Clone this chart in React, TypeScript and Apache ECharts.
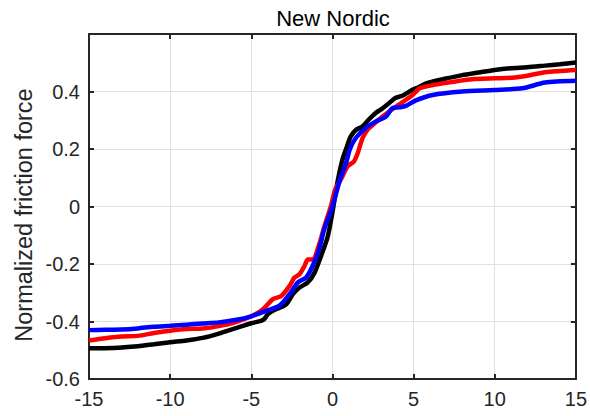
import React, { useEffect, useRef } from "react";
import * as echarts from "echarts";

const xTicks = [-15, -10, -5, 0, 5, 10, 15];
const yTicks = [-0.6, -0.4, -0.2, 0, 0.2, 0.4];

const blackSeries: [number, number][] = [
  [-15, -0.493], [-13.5, -0.492], [-12, -0.486], [-11, -0.479], [-10, -0.472],
  [-9, -0.466], [-8, -0.457], [-7, -0.442], [-6, -0.424], [-5, -0.406],
  [-4.4, -0.398], [-4.2, -0.392], [-3.97, -0.374], [-3.46, -0.357], [-2.85, -0.34],
  [-2.44, -0.305], [-2.03, -0.282], [-1.52, -0.264], [-1.1, -0.23], [-0.7, -0.172],
  [-0.29, -0.105], [0.0, -0.02], [0.31, 0.085], [0.6, 0.16], [0.84, 0.2],
  [1.13, 0.244], [1.46, 0.267], [1.84, 0.278], [2.2, 0.3], [2.68, 0.326],
  [3.0, 0.338], [3.5, 0.36], [3.9, 0.378], [4.3, 0.385], [4.9, 0.405],
  [5.3, 0.415], [5.76, 0.428], [7, 0.445], [8, 0.457], [9, 0.466],
  [10, 0.475], [11, 0.481], [12, 0.484], [13.1, 0.49], [14, 0.495], [15, 0.501],
];

const redSeries: [number, number][] = [
  [-15, -0.466], [-14, -0.458], [-13, -0.452], [-12, -0.45], [-11, -0.44],
  [-10, -0.432], [-9, -0.426], [-8, -0.424], [-7, -0.416], [-6, -0.403],
  [-5, -0.382], [-4.28, -0.357], [-3.67, -0.322], [-3.15, -0.311], [-2.64, -0.276],
  [-2.34, -0.247], [-2.03, -0.236], [-1.72, -0.207], [-1.52, -0.184], [-1.2, -0.184],
  [-0.82, -0.132], [-0.5, -0.07], [-0.1, 0], [0.17, 0.059], [0.51, 0.093],
  [0.94, 0.14], [1.33, 0.157], [1.56, 0.186], [1.86, 0.239], [2.2, 0.27],
  [2.5, 0.284], [3.09, 0.313], [3.91, 0.347], [4.94, 0.388], [5.4, 0.412],
  [7, 0.43], [8.6, 0.443], [10, 0.446], [11.06, 0.448], [12, 0.455],
  [13.1, 0.467], [15, 0.475],
];

const blueSeries: [number, number][] = [
  [-15, -0.43], [-14, -0.429], [-13, -0.428], [-12, -0.424], [-11, -0.418],
  [-10, -0.415], [-9, -0.411], [-8, -0.407], [-7, -0.403], [-6, -0.395],
  [-5, -0.382], [-4.08, -0.363], [-3.26, -0.345], [-2.64, -0.305], [-2.13, -0.264],
  [-1.62, -0.247], [-1.21, -0.205], [-0.82, -0.149], [-0.51, -0.08], [0, 0],
  [0.46, 0.093], [0.84, 0.151], [1.08, 0.2], [1.46, 0.24], [2.07, 0.274],
  [2.68, 0.296], [3.3, 0.313], [3.69, 0.342], [4.12, 0.345], [4.53, 0.35],
  [5.14, 0.369], [6.17, 0.388], [8, 0.4], [10, 0.405], [11.7, 0.411],
  [13.1, 0.431], [15, 0.437],
];

const FONT = "'Liberation Sans', Arial, Helvetica, sans-serif";
const AX = "#262626";

export default function App() {
  const ref = useRef<HTMLDivElement>(null);
  useEffect(() => {
    if (!ref.current) return;
    const chart = echarts.init(ref.current, undefined, { renderer: "svg" });
    const fmtY = (v: number) => {
      const r = Math.round(v * 10) / 10;
      if (!yTicks.some((t) => Math.abs(t - r) < 1e-6)) return "";
      return Math.abs(r) < 1e-9 ? "0" : String(r);
    };
    const fmtX = (v: number) => {
      const r = Math.round(v);
      return xTicks.includes(r) ? String(r) : "";
    };
    const grid = { left: 89, right: 13, top: 34, bottom: 37 };
    chart.setOption({
      animation: false,
      backgroundColor: "#ffffff",
      grid,
      graphic: [
        {
          type: "text",
          x: 333,
          y: 18,
          style: {
            text: "New Nordic",
            font: `22px ${FONT}`,
            fill: "#000",
            textAlign: "center",
            textVerticalAlign: "middle",
          },
        },
        {
          type: "text",
          x: 24,
          y: 215,
          rotation: Math.PI / 2,
          style: {
            text: "Normalized friction force",
            font: `23.5px ${FONT}`,
            fill: AX,
            textAlign: "center",
            textVerticalAlign: "middle",
          },
        },
      ],
      xAxis: [
        {
          type: "value",
          min: -15,
          max: 15,
          interval: 5,
          position: "bottom",
          axisLine: { show: true, onZero: false, lineStyle: { color: AX, width: 2 } },
          axisTick: { show: true, inside: true, length: 5, lineStyle: { color: AX, width: 2 } },
          axisLabel: { color: AX, fontSize: 20, fontFamily: FONT, margin: 10, formatter: fmtX },
          splitLine: { show: true, lineStyle: { color: "#e0e0e0", width: 1 } },
        },
        {
          type: "value",
          min: -15,
          max: 15,
          interval: 5,
          position: "top",
          axisLine: { show: true, onZero: false, lineStyle: { color: AX, width: 2 } },
          axisTick: { show: true, inside: true, length: 5, lineStyle: { color: AX, width: 2 } },
          axisLabel: { show: false },
          splitLine: { show: false },
        },
      ],
      yAxis: [
        {
          type: "value",
          min: -0.6,
          max: 0.6,
          interval: 0.2,
          position: "left",
          axisLine: { show: true, onZero: false, lineStyle: { color: AX, width: 2 } },
          axisTick: { show: true, inside: true, length: 5, lineStyle: { color: AX, width: 2 } },
          axisLabel: { color: AX, fontSize: 20, fontFamily: FONT, margin: 9, formatter: fmtY },
          splitLine: { show: true, lineStyle: { color: "#e0e0e0", width: 1 } },
        },
        {
          type: "value",
          min: -0.6,
          max: 0.6,
          interval: 0.2,
          position: "right",
          axisLine: { show: true, onZero: false, lineStyle: { color: AX, width: 2 } },
          axisTick: { show: true, inside: true, length: 5, lineStyle: { color: AX, width: 2 } },
          axisLabel: { show: false },
          splitLine: { show: false },
        },
      ],
      series: [
        { name: "black", data: blackSeries, color: "#000000" },
        { name: "red", data: redSeries, color: "#ff0000" },
        { name: "blue", data: blueSeries, color: "#0000ff" },
      ].map((s) => ({
        type: "line",
        name: s.name,
        data: s.data,
        xAxisIndex: 0,
        yAxisIndex: 0,
        showSymbol: false,
        smooth: 0.25,
        lineStyle: { color: s.color, width: 4.5 },
        itemStyle: { color: s.color },
        clip: true,
      })),
    });
    return () => chart.dispose();
  }, []);
  return (
    <div
      ref={ref}
      style={{ position: "fixed", left: 0, top: 0, width: 590, height: 416, background: "#fff" }}
    />
  );
}
